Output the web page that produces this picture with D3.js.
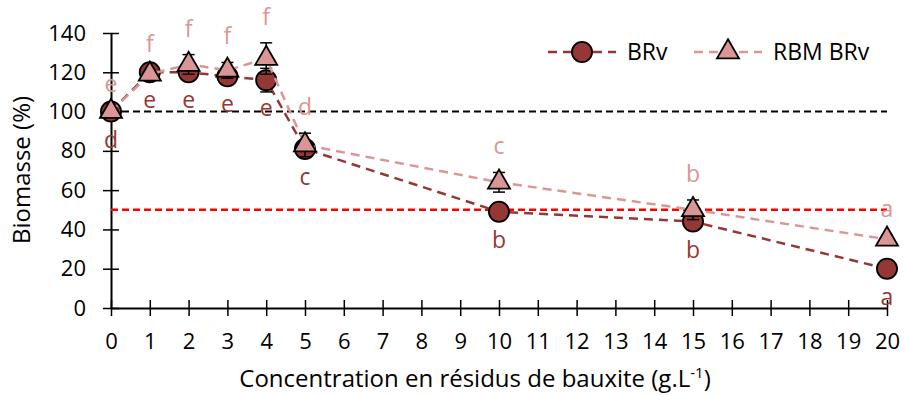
<!DOCTYPE html>
<html>
<head>
<meta charset="utf-8">
<script src="https://cdn.jsdelivr.net/npm/d3@7"></script>
<style>
  body { margin: 0; background: #fff; }
  text { font-family: "Open Sans", sans-serif; }
</style>
</head>
<body>
<script>
// data
var conc = [0, 1, 2, 3, 4, 5, 10, 15, 20];
var brv = [100, 120, 120, 118, 116, 81, 49, 44, 20];
var brvErr = [1, 2, 2, 2, 6, 3, 3, 2, 1];
var brvLetters = ["d", "e", "e", "e", "e", "c", "b", "b", "a"];
var rbm = [100, 119, 124, 121, 127, 83, 64, 50, 35];
var rbmErr = [1, 2, 5, 4, 8, 6, 5, 5, 2];
var rbmLetters = ["e", "f", "f", "f", "f", "d", "c", "b", "a"];
var refLines = [100, 50];
var xTicks = d3.range(0, 21);
var yTicks = [0, 20, 40, 60, 80, 100, 120, 140];

var dark = "#953735", pink = "#d99694";

var W = 906, H = 395;
var margin = {top: 33, right: 19, bottom: 87, left: 111};
var width = W - margin.left - margin.right,
    height = H - margin.top - margin.bottom;

var svg = d3.select("body").append("svg")
    .attr("width", W)
    .attr("height", H);
var g = svg.append("g")
    .attr("transform", "translate(" + margin.left + "," + margin.top + ")");

var x = d3.scaleLinear().domain([0, 20]).range([0, width]);
var y = d3.scaleLinear().domain([0, 140]).range([height, 0]);

// axes with crossing ticks
var xAxis = g.append("g")
    .attr("transform", "translate(0," + height + ")")
    .call(d3.axisBottom(x).tickValues(xTicks).tickSize(8).tickPadding(17).tickSizeOuter(0));
xAxis.selectAll(".tick line").attr("y1", -8);
var yAxis = g.append("g")
    .call(d3.axisLeft(y).tickValues(yTicks).tickSize(8).tickPadding(17).tickSizeOuter(0));
yAxis.selectAll(".tick line").attr("x1", 8);
[xAxis, yAxis].forEach(function(a) {
  a.select(".domain").attr("stroke", "#000").attr("stroke-width", 2);
  a.selectAll(".tick line").attr("stroke", "#000").attr("stroke-width", 1.5);
  a.selectAll(".tick text").attr("fill", "#000").style("font-size", "22px").style("font-family", "Open Sans");
});

// reference lines
g.append("line")
  .attr("x1", x(0)).attr("x2", x(20))
  .attr("y1", y(refLines[0])).attr("y2", y(refLines[0]))
  .attr("stroke", "#000").attr("stroke-width", 2).attr("stroke-dasharray", "7,4");
g.append("line")
  .attr("x1", x(0)).attr("x2", x(20))
  .attr("y1", y(refLines[1])).attr("y2", y(refLines[1]))
  .attr("stroke", "#ff0000").attr("stroke-width", 2.5).attr("stroke-dasharray", "7,4");

function drawSeries(vals, errs, color, symbol, size) {
  var pts = conc.map(function(c, i) { return {x: c, y: vals[i], e: errs[i]}; });
  g.append("path")
    .datum(pts)
    .attr("fill", "none")
    .attr("stroke", color)
    .attr("stroke-width", 2.5)
    .attr("stroke-dasharray", "9,6")
    .attr("d", d3.line().x(function(d) { return x(d.x); }).y(function(d) { return y(d.y); }));
  var eb = g.append("g").selectAll("g").data(pts).enter().append("g");
  eb.append("line")
    .attr("x1", function(d) { return x(d.x); }).attr("x2", function(d) { return x(d.x); })
    .attr("y1", function(d) { return y(d.y - d.e); }).attr("y2", function(d) { return y(d.y + d.e); })
    .attr("stroke", "#000").attr("stroke-width", 1.5);
  [-1, 1].forEach(function(s) {
    eb.append("line")
      .attr("x1", function(d) { return x(d.x) - 6; }).attr("x2", function(d) { return x(d.x) + 6; })
      .attr("y1", function(d) { return y(d.y + s * d.e); }).attr("y2", function(d) { return y(d.y + s * d.e); })
      .attr("stroke", "#000").attr("stroke-width", 1.5);
  });
  g.append("g").selectAll("path").data(pts).enter().append("path")
    .attr("d", d3.symbol().type(symbol).size(size))
    .attr("transform", function(d) { return "translate(" + x(d.x) + "," + y(d.y) + ")"; })
    .attr("fill", color)
    .attr("stroke", "#000")
    .attr("stroke-width", 1.8);
}

drawSeries(brv, brvErr, dark, d3.symbolCircle, 320);
drawSeries(rbm, rbmErr, pink, d3.symbolTriangle, 210);

// letters
g.append("g").selectAll("text").data(conc).enter().append("text")
  .attr("x", function(d) { return x(d); })
  .attr("y", function(d, i) { return y(brv[i]) + 36; })
  .attr("text-anchor", "middle")
  .attr("fill", dark)
  .style("font-size", "23px")
  .text(function(d, i) { return brvLetters[i]; });
g.append("g").selectAll("text").data(conc).enter().append("text")
  .attr("x", function(d) { return x(d); })
  .attr("y", function(d, i) { return y(rbm[i] + rbmErr[i]) - 18; })
  .attr("text-anchor", "middle")
  .attr("fill", pink)
  .style("font-size", "23px")
  .text(function(d, i) { return rbmLetters[i]; });

// legend
var legend = [
  {name: "BRv", color: dark, symbol: d3.symbolCircle, size: 320, x0: 548},
  {name: "RBM BRv", color: pink, symbol: d3.symbolTriangle, size: 210, x0: 694}
];
var lg = svg.append("g").selectAll("g").data(legend).enter().append("g")
  .attr("transform", function(d) { return "translate(" + d.x0 + ",52)"; });
lg.append("line")
  .attr("x1", 0).attr("x2", 68)
  .attr("stroke", function(d) { return d.color; })
  .attr("stroke-width", 2.5).attr("stroke-dasharray", "9,6");
lg.append("path")
  .attr("d", function(d) { return d3.symbol().type(d.symbol).size(d.size)(); })
  .attr("transform", "translate(34,0)")
  .attr("fill", function(d) { return d.color; })
  .attr("stroke", "#000").attr("stroke-width", 1.8);
lg.append("text")
  .attr("x", 79).attr("dy", "0.35em")
  .style("font-size", "23px")
  .text(function(d) { return d.name; });

// axis titles
var xt = svg.append("text")
  .attr("x", margin.left + width / 2 - 24).attr("y", 387)
  .attr("text-anchor", "middle")
  .style("font-size", "24px")
  .text("Concentration en résidus de bauxite (g.L");
xt.append("tspan").attr("dy", -9).style("font-size", "15px").text("-1");
xt.append("tspan").attr("dy", 9).text(")");

svg.append("text")
  .attr("transform", "translate(30,170) rotate(-90)")
  .attr("text-anchor", "middle")
  .style("font-size", "24px")
  .text("Biomasse (%)");
</script>
</body>
</html>
